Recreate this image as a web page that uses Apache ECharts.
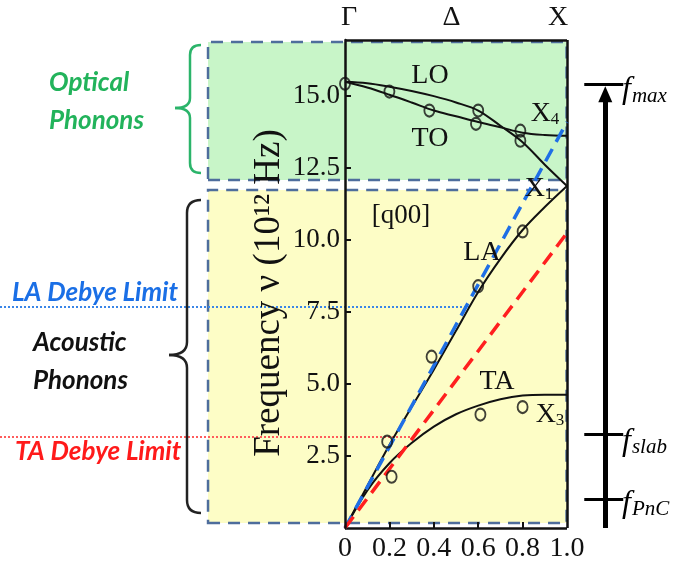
<!DOCTYPE html>
<html>
<head>
<meta charset="utf-8">
<script src="https://cdn.jsdelivr.net/npm/echarts@6/dist/echarts.min.js"></script>
<style>html,body{margin:0;padding:0;background:#fff}#c{width:675px;height:571px}</style>
</head>
<body>
<div id="c"></div>
<script>
// ---------- data ----------
const qGrid = [0, 0.1, 0.2, 0.3, 0.4, 0.5, 0.6, 0.7, 0.8, 0.9, 1.0];
const LO = [15.5, 15.45, 15.33, 15.18, 15.0, 14.78, 14.5, 13.97, 13.4, 12.62, 11.88];
const TO = [15.5, 15.3, 15.05, 14.78, 14.5, 14.3, 14.1, 13.92, 13.73, 13.65, 13.62];
const LA = [0, 1.45, 2.88, 4.2, 5.5, 6.85, 8.2, 9.35, 10.35, 11.15, 11.88];
const TA = [0, 1.3, 2.25, 2.95, 3.52, 3.95, 4.25, 4.47, 4.6, 4.63, 4.63];
const opticalPoints = [[0, 15.43], [0.2, 15.16], [0.38, 14.5], [0.6, 14.5], [0.59, 14.04], [0.79, 13.8], [0.79, 13.45]];
const acousticPoints = [[0.19, 3.0], [0.21, 1.78], [0.39, 5.95], [0.6, 8.4], [0.8, 10.3], [0.61, 3.94], [0.8, 4.2]];
const debyeQ = [0, 1.0];
const laDebye = [0, 14.1];   // blue dashed
const taDebye = [0, 10.25];  // red dashed
const laLimit = 7.68;        // LA Debye Limit level
const taLimit = 3.16;        // TA Debye Limit level
const opticalBand = [12.09, 16.88];
const acousticBand = [0.17, 11.74];
const fLevels = [15.42, 3.27, 1.0];
const fNames = ['max', 'slab', 'PnC'];
const xTicks = [0, 0.2, 0.4, 0.6, 0.8, 1.0];
const yTicks = [2.5, 5.0, 7.5, 10.0, 12.5, 15.0];
const topLabels = ['Γ', 'Δ', 'X'];

// ---------- layout constants ----------
const xMin = -1.56, xMax = 1.49, yMax = 16.95;
const bandLeft = -0.62;
const arrowQ = 1.175, tickL = 1.08, tickR = 1.256;
const SERIF = 'Liberation Serif';

function interpQ(arr, v) {
  for (let i = 1; i < arr.length; i++) {
    if (arr[i] >= v) {
      return qGrid[i - 1] + (v - arr[i - 1]) / (arr[i] - arr[i - 1]) * (qGrid[i] - qGrid[i - 1]);
    }
  }
  return qGrid[qGrid.length - 1];
}
const pair = (ys) => qGrid.map((q, i) => [q, ys[i]]);

const chart = echarts.init(document.getElementById('c'), null, {renderer: 'canvas'});

const curveStyle = {color: '#111', width: 2};
const curve = (name, ys) => ({
  name, type: 'line', data: pair(ys), smooth: 0.35, showSymbol: false,
  lineStyle: curveStyle, z: 4, silent: true
});
const onWide = {xAxisIndex: 1, yAxisIndex: 1};

const laEnd = interpQ(LA, laLimit);
const taEnd = taLimit / taDebye[1] * debyeQ[1];

const option = {
  animation: false,
  backgroundColor: '#fff',
  grid: [
    {left: 345, right: 108, top: 40, bottom: 43, containLabel: false, outerBoundsMode: 'none'},
    {left: 0, right: 0, top: 40, bottom: 43, containLabel: false, outerBoundsMode: 'none'}
  ],
  xAxis: [{
    type: 'value', gridIndex: 0, min: 0, max: 1, z: 10,
    axisLine: {show: false},
    splitLine: {show: false},
    axisTick: {show: true, inside: true, length: 6, customValues: xTicks.slice(1, -1),
      lineStyle: {color: '#111', width: 2}},
    axisLabel: {customValues: xTicks, margin: 7, color: '#111', fontFamily: SERIF, fontSize: 28,
      formatter: v => (v === 0 ? '0' : v.toFixed(1))}
  }, {
    type: 'value', gridIndex: 1, min: xMin, max: xMax, show: false
  }],
  yAxis: [{
    type: 'value', gridIndex: 0, min: 0, max: yMax, z: 10,
    axisLine: {show: true, lineStyle: {color: '#111', width: 2.5}},
    splitLine: {show: false},
    axisTick: {show: true, inside: true, length: 6, customValues: yTicks, lineStyle: {color: '#111', width: 2}},
    axisLabel: {customValues: yTicks, margin: 5, color: '#111', fontFamily: SERIF, fontSize: 27,
      formatter: v => v.toFixed(1)},
    name: 'Frequency ν (10¹² Hz)',
    nameLocation: 'middle', nameGap: 57, nameRotate: 90,
    nameTextStyle: {fontFamily: SERIF, fontSize: 37, color: '#111', padding: [0, 18, 0, 0]}
  }, {
    type: 'value', gridIndex: 1, min: 0, max: yMax, show: false
  }],
  series: [
    Object.assign({
      type: 'line', data: [], z: -5, silent: true,
      markArea: {
        silent: true,
        data: [
          [{xAxis: bandLeft, yAxis: opticalBand[0], itemStyle: {color: '#c8f5c8'}}, {xAxis: 1.0, yAxis: opticalBand[1]}],
          [{xAxis: bandLeft, yAxis: acousticBand[0], itemStyle: {color: '#fdfdc6'}}, {xAxis: 1.0, yAxis: acousticBand[1]}]
        ],
        itemStyle: {borderColor: '#4e6d9c', borderWidth: 2.5, borderType: [12, 8]}
      }
    }, onWide),
    Object.assign({
      type: 'line', silent: true, showSymbol: false, z: 3,
      data: [[xMin, laLimit], [laEnd, laLimit]],
      lineStyle: {color: '#3a86e8', width: 2, type: [2, 2]}
    }, onWide),
    Object.assign({
      type: 'line', silent: true, showSymbol: false, z: 3,
      data: [[xMin, taLimit], [taEnd, taLimit]],
      lineStyle: {color: '#ff5c5c', width: 2, type: [2, 2]}
    }, onWide),
    curve('LO', LO), curve('TO', TO), curve('LA', LA), curve('TA', TA),
    {
      type: 'line', silent: true, showSymbol: false, z: 5,
      data: debyeQ.map((q, i) => [q, laDebye[i]]),
      lineStyle: {color: '#1f6fe6', width: 3.5, type: [14, 8]}
    },
    {
      type: 'line', silent: true, showSymbol: false, z: 5,
      data: debyeQ.map((q, i) => [q, taDebye[i]]),
      lineStyle: {color: '#ff1f1f', width: 3.5, type: [14, 8]}
    },
    {
      type: 'scatter', silent: true, z: 6, symbol: 'circle', symbolSize: [10, 12],
      data: opticalPoints.concat(acousticPoints),
      itemStyle: {color: 'rgba(0,0,0,0)', borderColor: '#111', borderWidth: 2}
    },
    {
      type: 'line', data: [], z: 7, silent: true,
      markLine: {
        silent: true, symbol: 'none', label: {show: false},
        lineStyle: {color: '#111', width: 2.5, type: 'solid'},
        data: [
          [{coord: [0, 0]}, {coord: [1.0, 0]}],
          [{coord: [0, yMax]}, {coord: [1.0, yMax]}],
          [{coord: [1.0, 0]}, {coord: [1.0, yMax]}]
        ]
      }
    },
    Object.assign({
      type: 'line', data: [], z: 7, silent: true,
      markLine: {
        silent: true, symbol: 'none', label: {show: false},
        lineStyle: {color: '#000', width: 3, type: 'solid'},
        data: fLevels.map(f => [{coord: [tickL, f]}, {coord: [tickR, f]}])
      }
    }, onWide),
    Object.assign({
      type: 'line', data: [], z: 7, silent: true,
      markLine: {
        silent: true, symbol: ['none', 'triangle'], symbolSize: [14, 16], label: {show: false},
        lineStyle: {color: '#000', width: 5, type: 'solid'},
        data: [[{coord: [arrowQ, 0]}, {coord: [arrowQ, fLevels[0] - 0.35]}]]
      }
    }, onWide)
  ]
};
chart.setOption(option);

// ---------- text annotations ----------
const T = (text, x, y, font, fill, align) => ({
  type: 'text', silent: true, z: 20,
  style: {text, x, y, font, fill, textAlign: align || 'left', textVerticalAlign: 'middle'}
});
const sub = (main, s, x, y, size) => ({
  type: 'text', silent: true, z: 20,
  style: {
    text: '{a|' + main + '}{b|' + s + '}', x, y, textAlign: 'center', textVerticalAlign: 'middle',
    rich: {
      a: {fontFamily: SERIF, fontSize: size, fill: '#111', color: '#111'},
      b: {fontFamily: SERIF, fontSize: Math.round(size * 0.6), fill: '#111', color: '#111', verticalAlign: 'bottom', padding: [10, 0, 0, 0]}
    }
  }
});
const LAT = "italic bold 26px Lato";
const fLabel = (name, y) => ({
  type: 'text', silent: true, z: 20,
  style: {
    text: '{f|f}{s|' + name + '}', x: 622, y, textAlign: 'left', textVerticalAlign: 'middle',
    rich: {
      f: {fontFamily: SERIF, fontStyle: 'italic', fontSize: 32, fill: '#000', color: '#000'},
      s: {fontFamily: SERIF, fontStyle: 'italic', fontSize: 21, fill: '#000', color: '#000', verticalAlign: 'bottom', padding: [12, 0, 0, 1]}
    }
  }
});
// curly brace made of bezier curves and lines
function brace(xEdge, xStem, xTip, yTop, yMid, yBot, r, color) {
  const st = {stroke: color, lineWidth: 2.5, fill: null};
  const mk = (type, shape) => ({type, silent: true, z: 20, shape, style: st});
  return [
    mk('bezierCurve', {x1: xEdge, y1: yTop, cpx1: xStem, cpy1: yTop, x2: xStem, y2: yTop + r}),
    mk('line', {x1: xStem, y1: yTop + r, x2: xStem, y2: yMid - r}),
    mk('bezierCurve', {x1: xStem, y1: yMid - r, cpx1: xStem, cpy1: yMid, x2: xTip, y2: yMid}),
    mk('bezierCurve', {x1: xTip, y1: yMid, cpx1: xStem, cpy1: yMid, x2: xStem, y2: yMid + r}),
    mk('line', {x1: xStem, y1: yMid + r, x2: xStem, y2: yBot - r}),
    mk('bezierCurve', {x1: xStem, y1: yBot - r, cpx1: xStem, cpy1: yBot, x2: xEdge, y2: yBot})
  ];
}

const fy = fLevels.map(f => chart.convertToPixel({yAxisIndex: 1}, f));
const topX = [0, 0.48, 0.96].map(q => chart.convertToPixel({xAxisIndex: 0}, q));

chart.setOption({
  graphic: [
    T(topLabels[0], topX[0] + 4, 18, '28px ' + SERIF, '#111', 'center'),
    T(topLabels[1], topX[1], 18, '28px ' + SERIF, '#111', 'center'),
    T(topLabels[2], topX[2], 18, '28px ' + SERIF, '#111', 'center'),
    T('LO', 430, 76, '28px ' + SERIF, '#111', 'center'),
    T('TO', 430, 139, '28px ' + SERIF, '#111', 'center'),
    sub('X', '4', 545, 114, 28),
    sub('X', '1', 539, 189, 28),
    T('[q00]', 401, 216, '27px ' + SERIF, '#111', 'center'),
    T('LA', 482, 253, '28px ' + SERIF, '#111', 'center'),
    T('TA', 497, 382, '28px ' + SERIF, '#111', 'center'),
    sub('X', '3', 550, 415, 28),
    T('Optical', 49, 83, LAT, '#22b35b'),
    T('Phonons', 49, 121, LAT, '#22b35b'),
    T('LA Debye Limit', 12, 293, LAT, '#1a6fe6'),
    T('Acoustic', 33, 343, LAT, '#111'),
    T('Phonons', 33, 381, LAT, '#111'),
    T('TA Debye Limit', 15, 452, LAT, '#ff1a1a'),
    ...brace(201, 190, 175, 45, 108, 173, 10, '#2bb46a'),
    ...brace(201, 187, 169, 200, 355, 513, 13, '#222'),
    fLabel(fNames[0], fy[0] + 6),
    fLabel(fNames[1], fy[1] + 8),
    fLabel(fNames[2], fy[2] + 4)
  ]
});
</script>
</body>
</html>
